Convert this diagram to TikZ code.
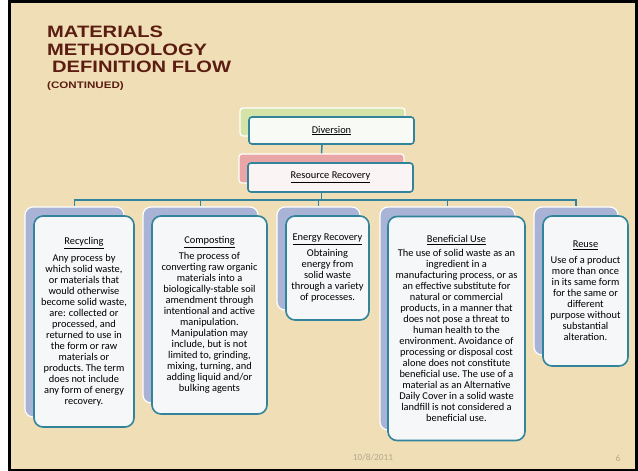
\documentclass[tikz,border=0pt]{standalone}
\usepackage{fontspec}
\setmainfont{Carlito}
\newfontfamily\titlefont{Liberation Sans}[FakeStretch=1.22]
\definecolor{bg}{HTML}{F0DFB6}
\definecolor{titlebrown}{HTML}{5B1D12}
\definecolor{tealline}{HTML}{31849B}
\definecolor{backblue}{HTML}{A9B3D6}
\definecolor{frontfill}{HTML}{F6F7F9}
\definecolor{greenback}{HTML}{D4E4A8}
\definecolor{pinkback}{HTML}{E9A6A6}
\definecolor{divfill}{HTML}{F8FAF6}
\definecolor{rrfill}{HTML}{FBF4F5}
\definecolor{footgray}{HTML}{B5A78C}
\tikzset{
  backbox/.style={draw=white, line width=1.2pt, rounded corners=8pt, fill=backblue, inner sep=0pt},
  frontbox/.style={draw=tealline, line width=1.6pt, rounded corners=9pt, fill=frontfill, align=center, inner sep=0pt,
    font=\fontsize{10.4}{11}\selectfont},
  topback/.style={draw=white, line width=1.2pt, rounded corners=3pt, inner sep=0pt, minimum width=165pt},
  topfront/.style={draw=tealline, line width=1.6pt, rounded corners=3pt, inner sep=0pt, minimum width=165pt,
    font=\fontsize{10.4}{11}\selectfont},
  conn/.style={draw=tealline, line width=1.5pt},
  titletext/.style={anchor=base west, inner sep=0pt, text=titlebrown},
  foot/.style={inner sep=0pt, text=footgray, font=\fontsize{9.3}{11}\selectfont}
}
\begin{document}
\begin{tikzpicture}[x=1pt,y=-1pt]
\useasboundingbox (0,0) rectangle (638,471);
\fill[white] (0,0) rectangle (638,471);
\draw[fill=bg, line width=3pt] (9.5,1.5) rectangle (636.5,470);

% title
\node[titletext, font=\titlefont\bfseries\fontsize{16.5}{18}\selectfont] (t1) at (47,37.5) {MATERIALS};
\node[titletext, font=\titlefont\bfseries\fontsize{16.5}{18}\selectfont] (t2) at (47,55) {METHODOLOGY};
\node[titletext, font=\titlefont\bfseries\fontsize{16.5}{18}\selectfont] (t3) at (52,72.7) {DEFINITION FLOW};
\node[titletext, font=\titlefont\bfseries\fontsize{9.5}{11}\selectfont] (t4) at (47,88.5) {(CONTINUED)};

% back boxes
\node[topback, fill=greenback, minimum height=28pt] (divb) at (322.5,122) {};
\node[topback, fill=pinkback, minimum height=29pt] (rrb) at (321.5,168.5) {};
\node[backbox, minimum width=99pt, minimum height=210pt] (recb) at (74.5,312) {};
\node[backbox, minimum width=115pt, minimum height=196pt] (comb) at (200.5,305) {};
\node[backbox, minimum width=83pt, minimum height=103pt] (enb) at (318.5,258.5) {};
\node[backbox, minimum width=135pt, minimum height=223pt] (benb) at (447.5,318.5) {};
\node[backbox, minimum width=84pt, minimum height=148pt] (reub) at (576,281) {};

% connectors
\coordinate (bar) at (321.5,200);
\draw[conn] (divb.south) -- (rrb.north);
\draw[conn] (rrb.south) -- (bar);
\draw[conn] (bar) -| (recb.north);
\draw[conn] (bar) -| (comb.north);
\draw[conn] (bar) -| (enb.north);
\draw[conn] (bar) -| (benb.north);
\draw[conn] (bar) -| (reub.north);

% front boxes
\node[topfront, fill=divfill, minimum height=27pt] (div) at (331.5,130.5) {\underline{Diversion}};
\node[topfront, fill=rrfill, minimum height=29pt] (rr) at (330.5,177.5) {\underline{Resource Recovery}};

\node[frontbox, minimum width=100pt, minimum height=211pt] (rec) at (84,321.5) {%
\underline{Recycling}\\[4.5pt]
Any process by\\
which solid waste,\\
or materials that\\
would otherwise\\
become solid waste,\\
are: collected or\\
processed, and\\
returned to use in\\
the form or raw\\
materials or\\
products.\ The term\\
does not include\\
any form of energy\\
recovery.};

\node[frontbox, minimum width=115pt, minimum height=198pt] (com) at (209.5,315) {%
\underline{Composting}\\[4pt]
The process of\\
converting raw organic\\
materials into a\\
biologically-stable soil\\
amendment through\\
intentional and active\\
manipulation.\\
Manipulation may\\
include, but is not\\
limited to, grinding,\\
mixing, turning, and\\
adding liquid and/or\\
bulking agents};

\node[frontbox, minimum width=83pt, minimum height=104pt] (en) at (327.5,268) {%
\underline{Energy Recovery}\\[3pt]
Obtaining\\
energy from\\
solid waste\\
through a variety\\
of processes.};

\node[frontbox, minimum width=137pt, minimum height=224pt] (ben) at (456.5,328.5) {%
\underline{Beneficial Use}\\[3pt]
The use of solid waste as an\\
ingredient in a\\
manufacturing process, or as\\
an effective substitute for\\
natural or commercial\\
products, in a manner that\\
does not pose a threat to\\
human health to the\\
environment.\ Avoidance of\\
processing or disposal cost\\
alone does not constitute\\
beneficial use.\ The use of a\\
material as an Alternative\\
Daily Cover in a solid waste\\
landfill is not considered a\\
beneficial use.};

\node[frontbox, minimum width=85pt, minimum height=150pt] (reu) at (585.5,291) {%
\underline{Reuse}\\[5pt]
Use of a product\\
more than once\\
in its same form\\
for the same or\\
different\\
purpose without\\
substantial\\
alteration.};

% footer
\node[foot] (date) at (373,457) {10/8/2011};
\node[foot] (pg) at (618,458) {6};
\end{tikzpicture}
\end{document}
